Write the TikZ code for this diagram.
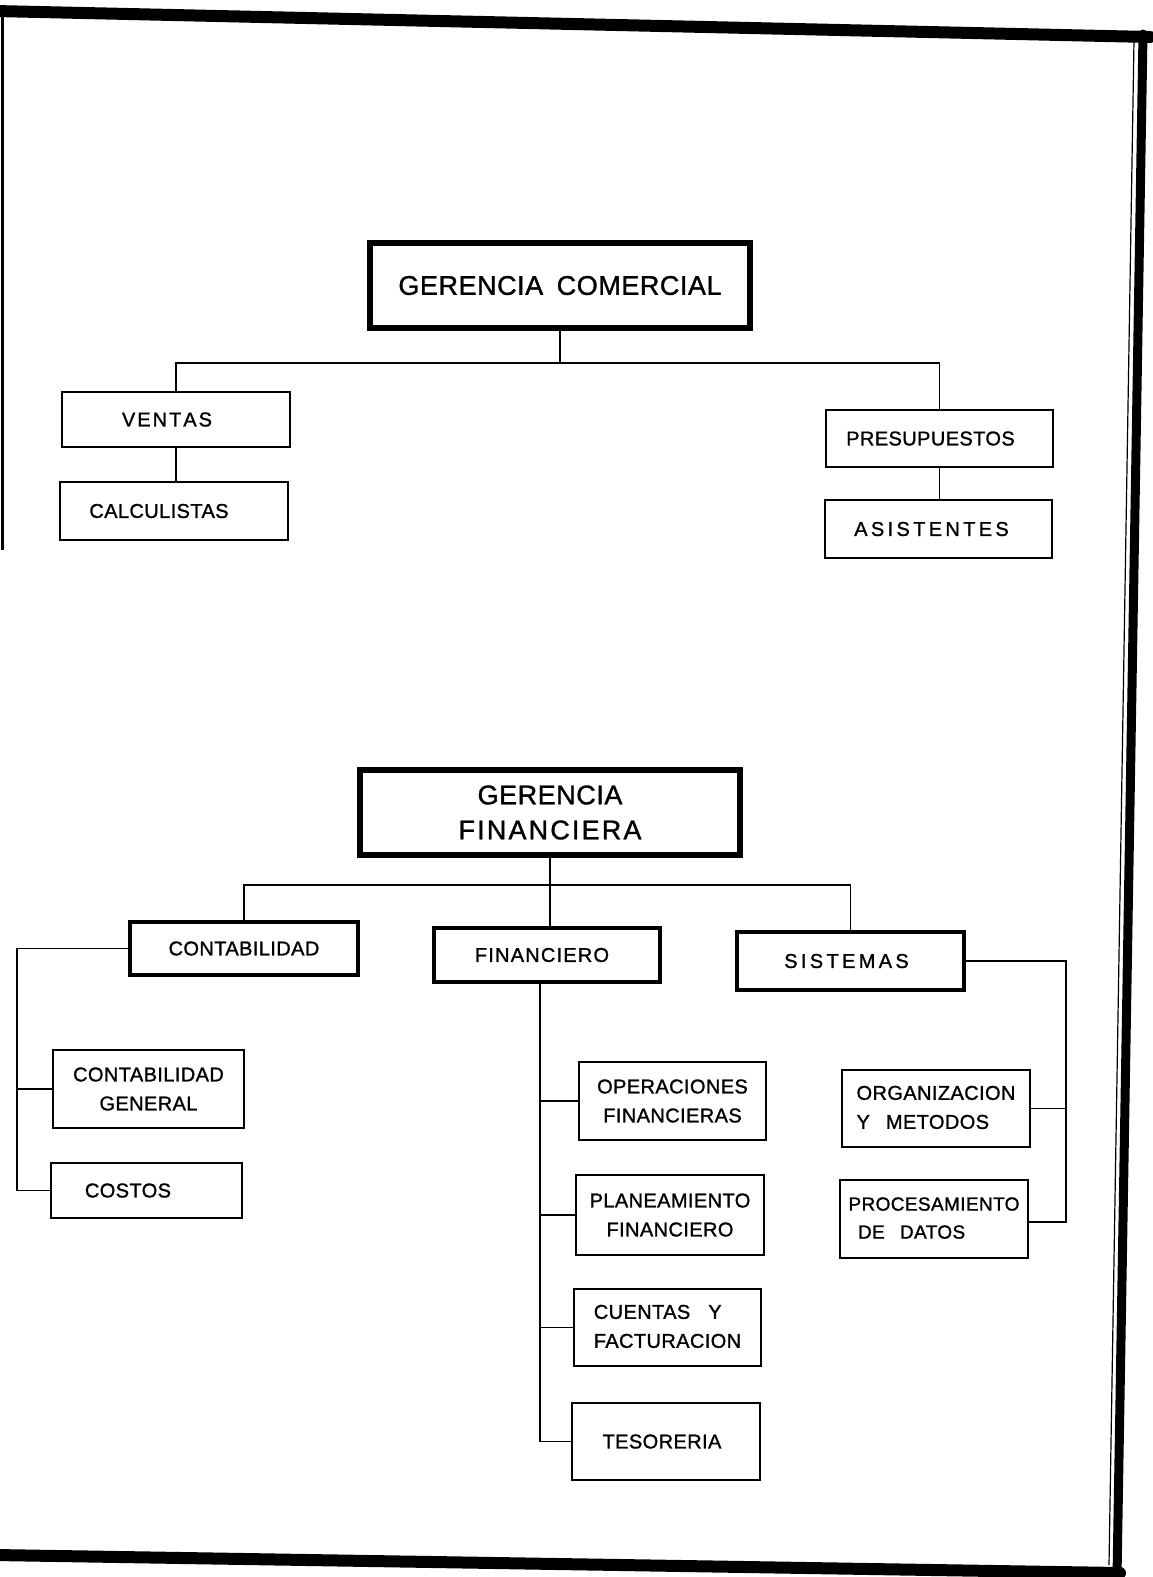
\documentclass[tikz,border=0pt]{standalone}
\usepackage{fontspec}
\newfontfamily\lbl[LetterSpace=2,FakeBold=1.2]{Liberation Sans}
\begin{document}
\begin{tikzpicture}[x=1pt,y=-1pt,
  box/.style={draw, line width=2.5pt, inner sep=0pt, align=center,
              font=\lbl\fontsize{20}{29}\selectfont},
  thickbox/.style={box, line width=5pt},
  bigbox/.style={box, line width=5.5pt, font=\lbl\fontsize{27}{35}\selectfont},
  conn/.style={line width=1.8pt},
  frame/.style={line cap=round}]
\useasboundingbox (0,0) rectangle (1152,1577);
% outer frame
\draw[frame, line width=12pt] (-5,11) -- (1150,37);
\draw[frame, line width=9pt] (1143,34) -- (1117,1577);
\draw[frame, line width=12pt] (-5,1555) -- (1120,1573);
\draw[line width=3pt] (2,12) -- (2,550);
\draw[line width=1.2pt] (1134,40) -- (1109,1565);

% Gerencia comercial
\node[bigbox, minimum width=380pt, minimum height=85pt] (gc) at (560,285.5) {GERENCIA\hspace{0.5em}COMERCIAL};
\node[box, minimum width=228pt, minimum height=55pt] (ventas) at (176,419.5) {V\hspace{0.1em}E\hspace{0.1em}N\hspace{0.1em}T\hspace{0.1em}A\hspace{0.1em}S\hspace*{18pt}};
\node[box, minimum width=228pt, minimum height=58pt] (calc) at (174,511) {CALCULISTAS\hspace*{30pt}};
\node[box, minimum width=227pt, minimum height=57pt] (pres) at (939.5,438.5) {PRESUPUESTOS\hspace*{18pt}};
\node[box, minimum width=227pt, minimum height=58pt] (asis) at (938.5,529) {A\,S\,I\,S\,T\,E\,N\,T\,E\,S\hspace*{14pt}};

\draw[conn] (gc.south) -- ++(0,32) coordinate (gcj);
\draw[conn] (ventas.north) |- (gcj) -| (pres.north);
\draw[conn] (ventas.south) -- (ventas.south |- calc.north);
\draw[conn] (pres.south) -- (pres.south |- asis.north);

% Gerencia financiera
\node[bigbox, minimum width=380pt, minimum height=85pt] (gf) at (550,812.5) {GERENCIA\\F\hspace{0.08em}I\hspace{0.08em}N\hspace{0.08em}A\hspace{0.08em}N\hspace{0.08em}C\hspace{0.08em}I\hspace{0.08em}E\hspace{0.08em}R\hspace{0.08em}A};
\node[thickbox, line width=4pt, minimum width=228pt, minimum height=53pt] (cont) at (244,948.5) {CONTABILIDAD};
\node[thickbox, line width=4pt, minimum width=226pt, minimum height=54pt] (fin) at (547,955) {F\hspace{0.06em}I\hspace{0.06em}N\hspace{0.06em}A\hspace{0.06em}N\hspace{0.06em}C\hspace{0.06em}I\hspace{0.06em}E\hspace{0.06em}R\hspace{0.06em}O\hspace*{10pt}};
\node[thickbox, line width=4pt, minimum width=227pt, minimum height=58pt] (sis) at (850.5,961) {S\,I\,S\,T\,E\,M\,A\,S\hspace*{8pt}};

\draw[conn] (gf.south) -- ++(0,27) coordinate (gfj);
\draw[conn] (cont.north) |- (gfj) -| (sis.north);
\draw[conn] (gfj) -- (gfj |- fin.north);

% Contabilidad branch
\node[box, minimum width=191pt, minimum height=78pt] (cg) at (148.5,1089) {CONTABILIDAD\\GENERAL};
\node[box, minimum width=191pt, minimum height=55pt] (costos) at (146.5,1190.5) {COSTOS\hspace*{37pt}};
\coordinate (cb) at (17,1190.5);
\draw[conn] (cont.west) -| (cb) -- (costos.west);
\draw[conn] (cg.west) -- (cg.west -| cb);

% Financiero branch
\node[box, minimum width=187pt, minimum height=78pt] (op) at (672.5,1101) {OPERACIONES\\FINANCIERAS};
\node[box, minimum width=188pt, minimum height=80pt] (plan) at (670,1215) {PLANEAMIENTO\\FINANCIERO};
\node[box, minimum width=187pt, minimum height=77pt] (cuen) at (667.5,1327.5) {\begin{tabular}{@{}l@{}}CUENTAS\hspace{0.9em}Y\\FACTURACION\end{tabular}};
\node[box, minimum width=188pt, minimum height=77pt] (tes) at (666,1441.5) {TESORERIA\hspace*{8pt}};
\coordinate (fb) at (540,1441.5);
\draw[conn] (fin.south -| fb) -- (fb) -- (tes.west);
\draw[conn] (op.west) -- (op.west -| fb);
\draw[conn] (plan.west) -- (plan.west -| fb);
\draw[conn] (cuen.west) -- (cuen.west -| fb);

% Sistemas branch
\node[box, minimum width=188pt, minimum height=77pt] (org) at (936,1108.5) {\begin{tabular}{@{}l@{}}ORGANIZACION\\Y\hspace{0.8em}METODOS\end{tabular}};
\node[box, minimum width=188pt, minimum height=78pt] (proc) at (934,1219) {\fontsize{19}{28}\selectfont\begin{tabular}{@{}l@{}}PROCESAMIENTO\\\hspace{0.5em}DE\hspace{0.8em}DATOS\end{tabular}};
\coordinate (sb) at (1066,1222);
\draw[conn] (sis.east) -| (sb) -- (sb -| proc.east);
\draw[conn] (org.east) -- (org.east -| sb);
\end{tikzpicture}
\end{document}
